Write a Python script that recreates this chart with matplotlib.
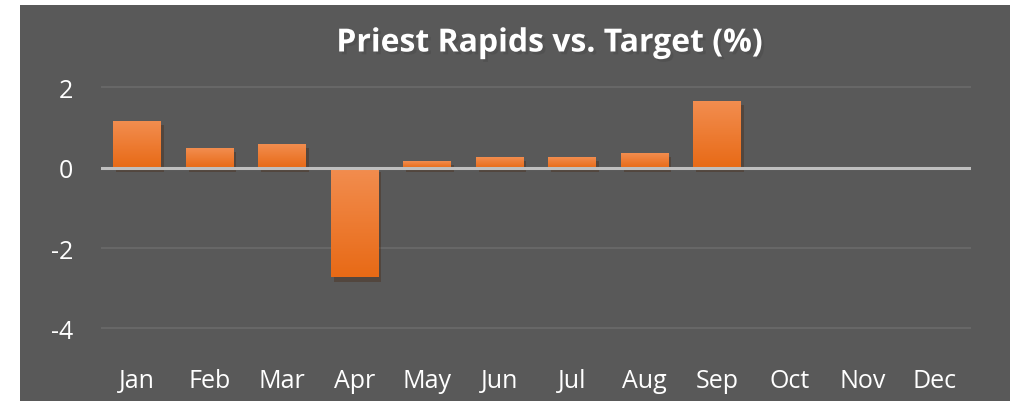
import matplotlib.pyplot as plt
import matplotlib.patheffects as pe
from matplotlib.patches import Rectangle
import numpy as np

months = ['Jan', 'Feb', 'Mar', 'Apr', 'May', 'Jun', 'Jul', 'Aug', 'Sep', 'Oct', 'Nov', 'Dec']
vs_target = [1.16, 0.49, 0.59, -2.73, 0.17, 0.27, 0.27, 0.37, 1.66, 0.0, 0.0, 0.0]
yticks = [2, 0, -2, -4]

bg = '#595959'
font = ['Open Sans', 'DejaVu Sans']

fig = plt.figure(figsize=(10.15, 4.02), dpi=100)
fig.patch.set_facecolor('white')
fig.patches.append(Rectangle((20 / 1015, 0), 990 / 1015, 396 / 402,
                             transform=fig.transFigure, facecolor=bg,
                             edgecolor='none', zorder=-5))

ax = fig.add_axes([101 / 1015, 0.1303, 870 / 1015, 0.7007])
ax.set_zorder(2)
ax.patch.set_visible(False)

x = np.arange(len(months))
bars = ax.bar(x, vs_target, width=0.66, color='#EE7A2C', zorder=3,
              path_effects=[pe.SimplePatchShadow(offset=(2, -3), alpha=0.35),
                            pe.Normal()])

# vertical gradient on each bar, lighter at the top
grad = np.linspace(0, 1, 64).reshape(-1, 1)
cmap = plt.matplotlib.colors.LinearSegmentedColormap.from_list(
    'og', ['#E86A16', '#F28D4F'])
for b in bars:
    h = b.get_height()
    if h == 0:
        continue
    x0, w = b.get_x(), b.get_width()
    y0, y1 = min(0, h), max(0, h)
    im = ax.imshow(grad, cmap=cmap, extent=(x0, x0 + w, y0, y1),
                   origin='lower', aspect='auto', zorder=4)
    im.set_clip_path(b)

ax.set_xlim(-0.5, len(months) - 0.5)
ax.set_ylim(-4.5, 2.5)
ax.set_yticks(yticks)
ax.set_yticklabels([str(v) for v in yticks])
ax.set_xticks(x)
ax.set_xticklabels(months)

for v in yticks:
    if v == 0:
        ax.axhline(0, color='#BFBFBF', lw=2.2, zorder=5)
    else:
        ax.axhline(v, color='#6B6B6B', lw=1.2, zorder=1)

for s in ax.spines.values():
    s.set_visible(False)
ax.tick_params(axis='both', length=0, colors='white', labelsize=18)
ax.tick_params(axis='y', pad=20)
ax.tick_params(axis='x', pad=14)
for lab in ax.get_xticklabels() + ax.get_yticklabels():
    lab.set_family(font)

fig.text(550 / 1015, 1 - 44 / 402, 'Priest Rapids vs. Target (%)', color='white',
         fontsize=23, fontweight='bold', family=font, ha='center', va='center',
         path_effects=[pe.withSimplePatchShadow(offset=(2, -2), alpha=0.6)])

fig.savefig('out.png', dpi=100, facecolor=fig.get_facecolor())
